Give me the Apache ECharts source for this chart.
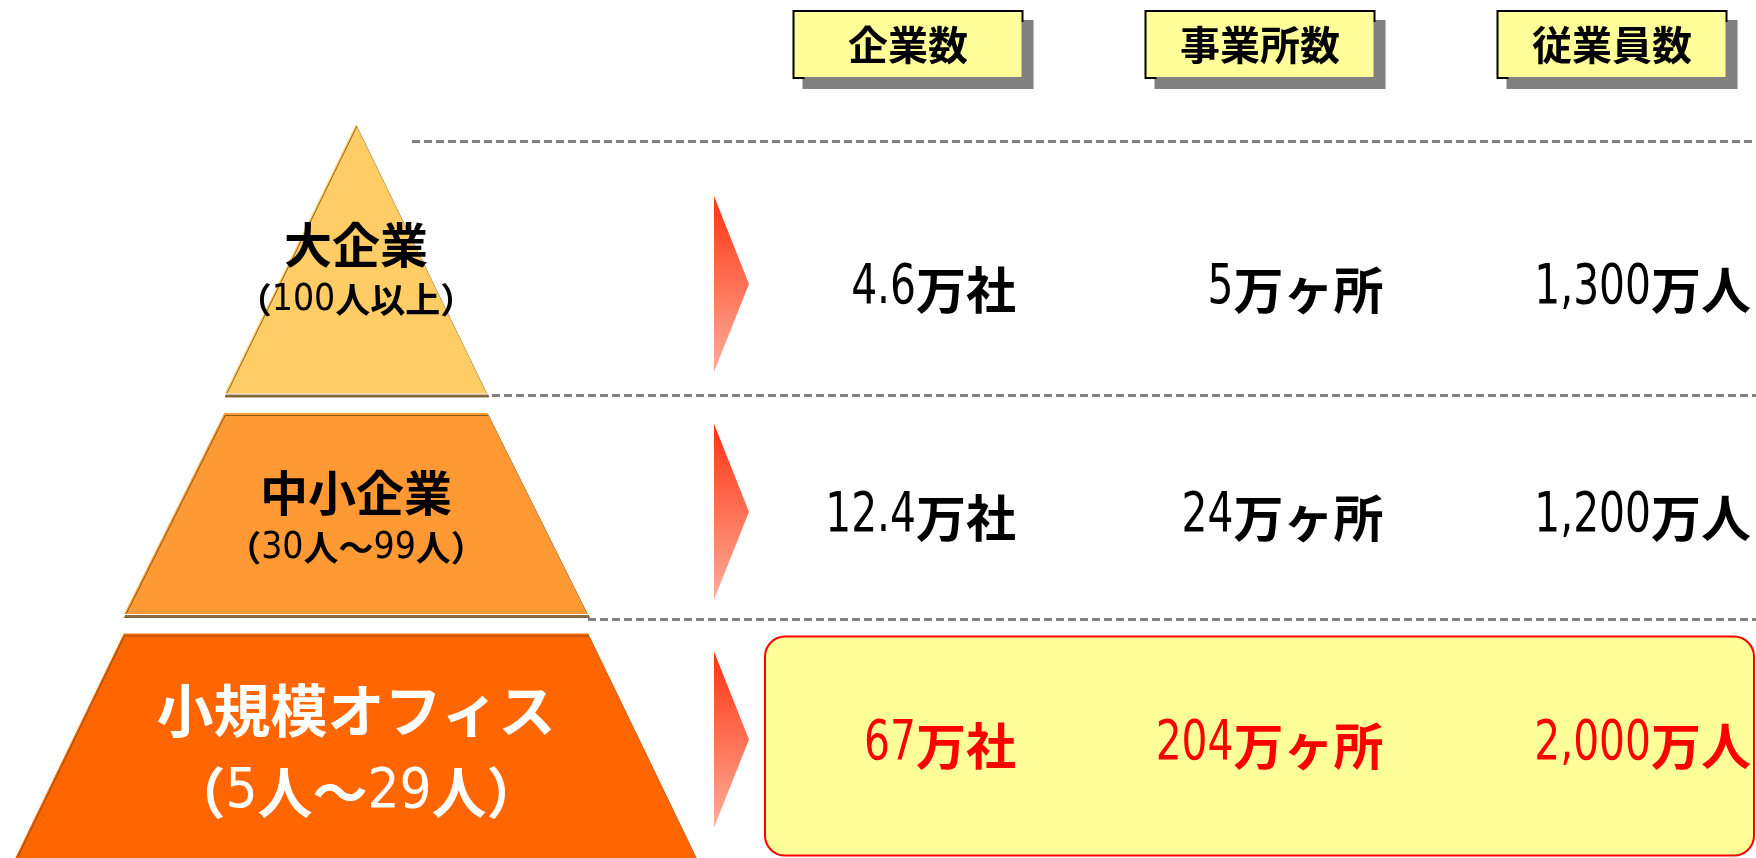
<!DOCTYPE html>
<html>
<head>
<meta charset="utf-8">
<script src="https://cdn.jsdelivr.net/npm/echarts@6/dist/echarts.min.js"></script>
<style>
html,body{margin:0;padding:0;background:#ffffff;}
#chart{width:1756px;height:858px;}
</style>
</head>
<body>
<div id="chart"></div>
<script>
// ---- data ----
const tiers = ['大企業', '中小企業', '小規模オフィス'];
const tierRanges = ['（100人以上）', '（30人～99人）', '（5人～29人）'];
const tierScale = [38, 67, 100];          // relative widths of the pyramid tiers (top → bottom)
const metrics = ['企業数', '事業所数', '従業員数'];
const companies = [4.6, 12.4, 67];        // 万社
const establishments = [5, 24, 204];      // 万ヶ所
const employees = [1300, 1200, 2000];     // 万人
const units = ['万社', '万ヶ所', '万人'];
const highlightRow = 2;

// ---- layout / style constants ----
const CJK = "'Noto Sans CJK JP', 'Noto Sans CJK SC', sans-serif";
const NARROW = "'DejaVu Sans Condensed', 'Liberation Sans', sans-serif";
const tierColors = ['#FFCC66', '#FF9933', '#FF6600'];
const tierHeights = [271, 202, 237];
const tierTextColor = ['#000000', '#000000', '#ffffff'];
const tierPadTop = [28, 14, 0];
const VALUE_CJK_SIZE = 50;
const VALUE_NUM_SIZE = 56;
const NUM_SQUEEZE = 0.81;

const columns = [companies, establishments, employees];
function fmt(v) {
  return Number.isInteger(v) ? v.toLocaleString('en-US') : String(v);
}
function richDigits(str, numKey, txtKey) {
  return str.split(/(\d+)/).filter(s => s.length).map(s =>
    /^\d+$/.test(s) ? '{' + numKey + '|' + s + '}' : '{' + txtKey + '|' + s + '}'
  ).join('');
}

const chart = echarts.init(document.getElementById('chart'), null, {renderer: 'canvas'});

const funnelData = tiers.map((name, i) => {
  const big = i === 2;
  const col = tierTextColor[i];
  const lh = big ? 82 : 55;
  return {
    name: name,
    value: tierScale[i],
    itemStyle: {
      color: tierColors[i],
      height: tierHeights[i],
      shadowColor: 'rgba(110,75,20,0.8)',
      shadowOffsetX: 1,
      shadowOffsetY: 3,
      shadowBlur: 0
    },
    label: {
      padding: [tierPadTop[i], 0, 0, 0],
      formatter: '{a|' + name + '}\n' + richDigits(tierRanges[i], 'n', 'p'),
      rich: {
        a: {fontFamily: CJK, fontWeight: 'bold', fontSize: big ? 57 : 48, color: col, lineHeight: lh, textBorderWidth: 0},
        p: {fontFamily: CJK, fontWeight: 'bold', fontSize: big ? 55 : 35, color: col, lineHeight: lh, textBorderWidth: 0},
        n: {fontFamily: NARROW, fontSize: big ? 56 : 37, color: col, lineHeight: lh, textBorderWidth: 0}
      }
    }
  };
});

const valueCells = [];
for (let r = 0; r < tiers.length; r++) {
  for (let c = 0; c < metrics.length; c++) valueCells.push([c, r]);
}

const dash = {stroke: '#808080', lineWidth: 3, lineDash: [8, 4]};

const option = {
  backgroundColor: '#ffffff',
  animation: false,
  grid: [
    {left: 732, width: 1056, top: 120, height: 10, outerBoundsMode: 'none', containLabel: false},
    {left: 648.5, width: 1102.5, top: 176, height: 683.5, outerBoundsMode: 'none', containLabel: false}
  ],
  xAxis: [
    {
      type: 'category', gridIndex: 0, data: metrics, position: 'top',
      axisLine: {show: false}, axisTick: {show: false}, splitLine: {show: false},
      axisLabel: {
        margin: 43, interval: 0, hideOverlap: false,
        fontFamily: CJK, fontWeight: 'bold', fontSize: 40, color: '#000',
        backgroundColor: '#FFFF99', borderColor: '#000', borderWidth: 2,
        width: 227, height: 65, lineHeight: 65, align: 'center', padding: 0,
        shadowColor: '#808080', shadowOffsetX: 10, shadowOffsetY: 10, shadowBlur: 0
      }
    },
    {type: 'category', gridIndex: 1, data: metrics, show: false}
  ],
  yAxis: [
    {type: 'value', gridIndex: 0, show: false},
    {type: 'category', gridIndex: 1, data: tiers, inverse: true, show: false}
  ],
  graphic: [
    {type: 'line', z: 1, shape: {x1: 412, y1: 141.5, x2: 1756, y2: 141.5}, style: dash},
    {type: 'line', z: 1, shape: {x1: 492, y1: 395.5, x2: 1756, y2: 395.5}, style: dash},
    {type: 'line', z: 1, shape: {x1: 588, y1: 619.5, x2: 1756, y2: 619.5}, style: dash}
  ],
  series: [
    {
      type: 'funnel',
      left: 9, width: 694, top: 123, bottom: -12,
      min: 0, max: 100, minSize: 0, maxSize: 694,
      sort: 'ascending', gap: 18.5, funnelAlign: 'center',
      silent: true,
      label: {show: true, position: 'inside', textBorderWidth: 0},
      labelLine: {show: false},
      emphasis: {disabled: true},
      data: funnelData
    },
    {
      // highlight box around the small-office row
      type: 'custom', xAxisIndex: 1, yAxisIndex: 1, z: 2, silent: true,
      data: [[highlightRow]],
      encode: {y: 0},
      renderItem: function (params, api) {
        const cs = params.coordSys;
        const y = api.coord([0, api.value(0)])[1];
        return {
          type: 'rect',
          shape: {x: cs.x + 116.5, y: y - 109, width: 989, height: 219, r: 20},
          style: {fill: '#FFFF99', stroke: '#FF0000', lineWidth: 2}
        };
      }
    },
    {
      // arrows pointing from each tier to its row
      type: 'custom', xAxisIndex: 1, yAxisIndex: 1, z: 3, silent: true,
      data: tiers.map((t, i) => [i]),
      encode: {y: 0},
      renderItem: function (params, api) {
        const cs = params.coordSys;
        const y = api.coord([0, api.value(0)])[1];
        const x0 = cs.x + 65.5;
        return {
          type: 'polygon',
          shape: {points: [[x0, y - 94], [x0 + 35, y - 6], [x0, y + 82]]},
          style: {
            fill: new echarts.graphic.LinearGradient(0, 0, 0, 1, [
              {offset: 0, color: '#FF3311'},
              {offset: 1, color: '#FFAE9A'}
            ])
          }
        };
      }
    },
    {
      // the values
      type: 'custom', xAxisIndex: 1, yAxisIndex: 1, z: 4, silent: true,
      data: valueCells,
      encode: {x: 0, y: 1},
      renderItem: function (params, api) {
        const c = api.value(0), r = api.value(1);
        const p = api.coord([c, r]);
        const bw = api.size([1, 0])[0];
        const hl = r === highlightRow;
        const color = hl ? '#FF0000' : '#000000';
        const sh = hl ? {textShadowColor: '#A9A9C6', textShadowOffsetX: 2, textShadowOffsetY: 2, textShadowBlur: 0} : {};
        const right = p[0] + bw / 2;
        const unit = units[c];
        const unitW = unit.length * VALUE_CJK_SIZE;
        return {
          type: 'group',
          children: [
            {
              type: 'text', x: right, y: p[1],
              style: Object.assign({
                text: unit, align: 'right', verticalAlign: 'middle',
                fontFamily: CJK, fontWeight: 'bold', fontSize: VALUE_CJK_SIZE, fill: color
              }, sh)
            },
            {
              type: 'text', x: right - unitW, y: p[1] - 1, scaleX: NUM_SQUEEZE,
              style: Object.assign({
                text: fmt(columns[c][r]), align: 'right', verticalAlign: 'middle',
                fontFamily: NARROW, fontSize: VALUE_NUM_SIZE, fill: color
              }, sh)
            }
          ]
        };
      }
    }
  ]
};
chart.setOption(option);
</script>
</body>
</html>
